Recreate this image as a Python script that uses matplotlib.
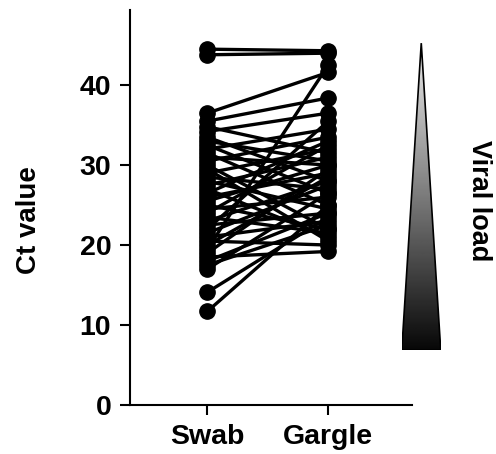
import numpy as np
import matplotlib
matplotlib.use('Agg')
import matplotlib.pyplot as plt
from matplotlib.patches import Polygon

# paired Ct values (swab -> gargle)
swab = [44.5, 43.8, 36.5, 35.5, 34.2, 19.5, 33.0, 32.0, 31.5, 30.5,
        30.0, 29.0, 28.5, 27.5, 27.0, 26.0, 25.5, 24.5, 24.0, 23.0,
        22.5, 22.0, 21.0, 20.5, 20.0, 18.5, 17.5, 17.0, 14.1, 11.7,
        34.8, 32.5, 29.5, 26.5, 23.5, 31.0, 28.0, 21.5, 25.0, 19.0,
        33.5, 18.0]
gargle = [44.3, 44.0, 41.6, 38.4, 36.5, 42.5, 30.5, 34.5, 25.0, 33.5,
          22.0, 32.0, 27.0, 31.0, 21.0, 29.0, 30.0, 26.0, 32.5, 28.0,
          24.0, 35.5, 23.0, 20.0, 28.5, 19.2, 22.5, 26.5, 23.5, 25.0,
          31.5, 26.5, 20.5, 33.0, 21.5, 30.0, 24.5, 27.5, 22.0, 29.5,
          28.0, 24.0]
groups = ['Swab', 'Gargle']
yticks = [0, 10, 20, 30, 40]

plt.rcParams['font.family'] = ['Liberation Sans', 'DejaVu Sans']
plt.rcParams['font.weight'] = 'bold'

fig = plt.figure(figsize=(4.96, 4.54), dpi=100)
ax = fig.add_axes([0.262, 0.108, 0.568, 0.870])

for s, g in zip(swab, gargle):
    ax.plot([0, 1], [s, g], '-o', color='black', lw=2.4, ms=11, clip_on=False)

ax.set_xlim(-0.64, 1.69)
ax.set_ylim(0, 49.4)
ax.set_xticks([0, 1])
ax.set_xticklabels(groups, fontsize=20.5, fontweight='bold')
ax.set_yticks(yticks)
ax.set_yticklabels([str(t) for t in yticks], fontsize=20.5, fontweight='bold')
ax.tick_params(axis='both', length=7.5, width=1.5, color='black', pad=6)
ax.spines['top'].set_visible(False)
ax.spines['right'].set_visible(False)
ax.spines['left'].set_linewidth(1.5)
ax.spines['bottom'].set_linewidth(1.5)
ax.set_ylabel('Ct value', fontsize=20, fontweight='bold')
ax.yaxis.set_label_coords(-0.313, 0.468)

# viral load wedge
tax = fig.add_axes([0.810, 0.229, 0.0786, 0.676])
tax.set_xlim(0, 1)
tax.set_ylim(0, 1)
tax.axis('off')
grad = np.linspace(0.03, 0.93, 256).reshape(-1, 1)
img = tax.imshow(grad, extent=[0, 1, 0, 1], origin='lower', cmap='gray',
                 vmin=0, vmax=1, aspect='auto')
tri = Polygon([[0, 0], [1, 0], [0.5, 1]], closed=True, fill=False,
              edgecolor='black', lw=1.2)
tax.add_patch(tri)
img.set_clip_path(tri)

fig.text(0.966, 0.557, 'Viral load', rotation=-90, fontsize=19.5,
         fontweight='bold', ha='center', va='center')

fig.savefig('out.png', dpi=100)
